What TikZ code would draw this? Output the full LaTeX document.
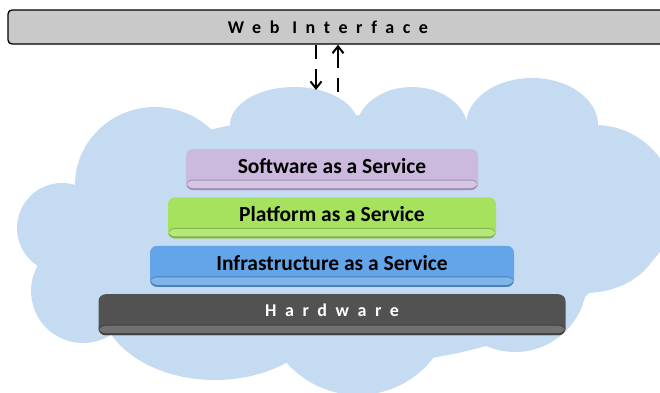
\documentclass[tikz,border=0pt]{standalone}
\usepackage{fontspec}
\setmainfont{Carlito}
\usetikzlibrary{arrows.meta,positioning}
\definecolor{cloudblue}{RGB}{197,219,242}
\definecolor{saascol}{RGB}{204,185,222}
\definecolor{paascol}{RGB}{166,226,94}
\definecolor{iaascol}{RGB}{100,164,232}
\definecolor{hwcol}{RGB}{82,82,82}
\definecolor{webgray}{RGB}{201,201,201}
\tikzset{
  layer/.style={rounded corners=7pt, minimum height=41pt, fill=#1, text height=16pt, text depth=8pt,
    font=\fontsize{21.5}{24}\selectfont\bfseries,
    path picture={
      \fill[#1!78!black] (path picture bounding box.south west) rectangle ([yshift=10.5pt]path picture bounding box.south east);
      \fill[#1!82!white] ([yshift=2pt]path picture bounding box.south west) rectangle ([yshift=9.5pt]path picture bounding box.south east);
    }},
  spaced/.style={font=\fontsize{18}{21}\selectfont\bfseries\addfontfeatures{LetterSpace=48}},
  webbar/.style={draw=black, line width=1.3pt, fill=webgray, rounded corners=4pt, minimum height=34pt},
  flow/.style={-{Straight Barb[length=7pt,width=11pt,line width=2pt]}, line width=2.5pt, dash pattern=on 14pt off 10pt on 40pt}
}

\begin{document}
\begin{tikzpicture}[x=1pt, y=-1pt, node distance=7pt]
  \useasboundingbox (0,0) rectangle (660,392);
  \clip (0,0) rectangle (660,392);

  % cloud
  \fill[cloudblue] (340,240) ellipse (275pt and 125pt);
  \fill[cloudblue] (294,125) ellipse (64pt and 38pt);
  \fill[cloudblue] (412,130) ellipse (56pt and 43pt);
  \fill[cloudblue] (532,125) ellipse (66pt and 47pt);
  \fill[cloudblue] (595,205) circle (80pt);
  \fill[cloudblue] (585,235) ellipse (75pt and 58pt);
  \fill[cloudblue] (515,280) circle (72pt);
  \fill[cloudblue] (358,300) circle (95pt);
  \fill[cloudblue] (215,300) ellipse (115pt and 80pt);
  \fill[cloudblue] (83,291) circle (52pt);
  \fill[cloudblue] (62,228) circle (45pt);
  \fill[cloudblue] (155,185) ellipse (80pt and 78pt);

  \node[webbar, minimum width=672pt] (web) at (344,27) {};
  \node[spaced] (webtext) at (328,27) {Web Interface};

  \node[layer=saascol, minimum width=292pt] (saas) at (332,169.5) {Software as a Service};
  \node[layer=paascol, minimum width=328pt, below=of saas] (paas) {Platform as a Service};
  \node[layer=iaascol, minimum width=364pt, below=of paas] (iaas) {Infrastructure as a Service};
  \node[layer=hwcol, spaced, text=white, text height=14pt, text depth=11pt, minimum width=467pt, below=of iaas] (hw) {Hardware};

  \coordinate (downend) at (316,90);
  \coordinate (upstart) at (338,92);
  \draw[flow] (web.south -| downend) -- (downend);
  \draw[flow] (upstart) -- (web.south -| upstart);
\end{tikzpicture}
\end{document}
